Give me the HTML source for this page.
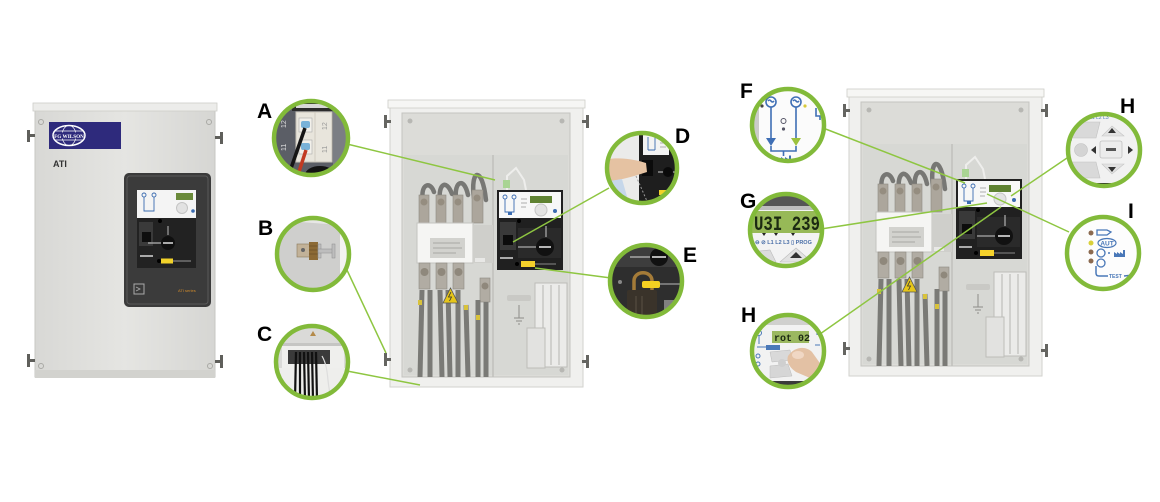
<!DOCTYPE html>
<html><head><meta charset="utf-8"><style>
html,body{margin:0;padding:0;background:#fff;width:1160px;height:502px;overflow:hidden}
svg{display:block}
</style></head><body>
<svg width="1160" height="502" viewBox="0 0 1160 502" xmlns="http://www.w3.org/2000/svg" xmlns:xlink="http://www.w3.org/1999/xlink" font-family="Liberation Sans, Arial, sans-serif">
<defs>
 <linearGradient id="cab" x1="0" x2="1" y1="0" y2="0">
  <stop offset="0" stop-color="#d8d8d5"/><stop offset="0.5" stop-color="#e5e5e2"/><stop offset="1" stop-color="#d6d6d3"/>
 </linearGradient>
 <clipPath id="cA"><circle cx="311" cy="138" r="37"/></clipPath>
 <clipPath id="cB"><circle cx="313" cy="254" r="36"/></clipPath>
 <clipPath id="cC"><circle cx="312" cy="362" r="36"/></clipPath>
 <clipPath id="cD"><circle cx="642" cy="168" r="35"/></clipPath>
 <clipPath id="cE"><circle cx="646" cy="281" r="36"/></clipPath>
 <clipPath id="cF"><circle cx="788" cy="125" r="36"/></clipPath>
 <clipPath id="cG"><circle cx="786" cy="230" r="36"/></clipPath>
 <clipPath id="cH2"><circle cx="788" cy="351" r="36"/></clipPath>
 <clipPath id="cH1"><circle cx="1104" cy="150" r="36"/></clipPath>
 <clipPath id="cI"><circle cx="1103" cy="253" r="36"/></clipPath>

 <g id="inner">
  <rect x="0" y="3" width="193" height="284" fill="#f0f0ee" stroke="#d2d2ce" stroke-width="1"/>
  <rect x="-2" y="0" width="197" height="8" fill="#f6f6f4" stroke="#cdcdc9" stroke-width="0.8"/>
  <rect x="12" y="13" width="168" height="264" fill="#dcdcd8" stroke="#c4c4c0" stroke-width="1"/>
  <rect x="14" y="55" width="164" height="220" fill="#d7d8d4"/>
  <circle cx="20" cy="21" r="2.5" fill="#b7b7b3"/><circle cx="172" cy="21" r="2.5" fill="#b7b7b3"/>
  <circle cx="20" cy="270" r="2.5" fill="#b7b7b3"/><circle cx="172" cy="270" r="2.5" fill="#b7b7b3"/>
  <!-- hinges -->
  <g fill="#656561">
   <rect x="-6" y="15" width="3" height="13"/><rect x="-6" y="20" width="7" height="3"/>
   <rect x="-6" y="253" width="3" height="13"/><rect x="-6" y="258" width="7" height="3"/>
   <rect x="196" y="15" width="3" height="13"/><rect x="192" y="20" width="7" height="3"/>
   <rect x="196" y="255" width="3" height="13"/><rect x="192" y="260" width="7" height="3"/>
  </g>
  <line x1="103" y1="55" x2="103" y2="277" stroke="#c0c0bc" stroke-width="1.5"/>
  <!-- top cables -->
  <g fill="none" stroke="#777774" stroke-width="4.5" stroke-linecap="round">
   <path d="M33,100 C30,85 40,80 44,92"/>
   <path d="M50,100 C48,85 56,78 62,94"/>
   <path d="M66,98 C64,82 74,76 78,95"/>
   <path d="M84,98 C80,70 92,64 96,100"/>
  </g>
  <!-- upper terminals -->
  <g fill="#aca69c" stroke="#8e8a82" stroke-width="0.6">
   <rect x="29" y="95" width="10" height="28"/><rect x="46" y="95" width="10" height="28"/>
   <rect x="63" y="95" width="10" height="28"/><rect x="82" y="90" width="11" height="33"/>
  </g>
  <g fill="#958d80"><circle cx="34" cy="102" r="3.5"/><circle cx="51" cy="102" r="3.5"/><circle cx="68" cy="102" r="3.5"/><circle cx="87" cy="98" r="3.5"/></g>
  <!-- contactor -->
  <rect x="27" y="123" width="56" height="40" fill="#f5f5f3" stroke="#c3c3bf"/>
  <rect x="40" y="138" width="35" height="20" fill="#d2d2ce"/>
  <g stroke="#9a9a96" stroke-width="0.8"><line x1="43" y1="143" x2="70" y2="143"/><line x1="43" y1="148" x2="72" y2="148"/><line x1="43" y1="153" x2="66" y2="153"/></g>
  <rect x="83" y="125" width="20" height="38" fill="#cfcfcb"/>
  <rect x="85" y="158" width="10" height="4" fill="#e8e8e6"/>
  <!-- lower terminals -->
  <g fill="#b1aca3" stroke="#8e8a82" stroke-width="0.6">
   <rect x="29" y="163" width="11" height="26"/><rect x="46" y="163" width="11" height="26"/><rect x="63" y="163" width="11" height="26"/><rect x="90" y="178" width="10" height="24"/>
  </g>
  <g fill="#8f887c"><circle cx="34.5" cy="172" r="4"/><circle cx="51.5" cy="172" r="4"/><circle cx="68.5" cy="172" r="4"/><circle cx="95" cy="186" r="3.5"/></g>
  <!-- down cables -->
  <g stroke="#7a7a76" stroke-width="5">
   <line x1="32" y1="190" x2="30" y2="277"/><line x1="40" y1="190" x2="40" y2="277"/>
   <line x1="50" y1="190" x2="52" y2="277"/><line x1="58" y1="190" x2="60" y2="277"/>
   <line x1="68" y1="190" x2="68" y2="277"/><line x1="76" y1="205" x2="78" y2="277"/>
   <line x1="88" y1="200" x2="88" y2="277"/><line x1="96" y1="202" x2="96" y2="277"/>
  </g>
  <polygon points="53,203 68,203 60.5,188" fill="#e6c61a" stroke="#555" stroke-width="0.8"/>
  <path d="M61,192 L58.5,197 L61.5,197 L59.5,201" fill="none" stroke="#333" stroke-width="0.8"/>
  <g fill="#d8c23a"><rect x="28" y="200" width="4" height="5"/><rect x="74" y="205" width="4" height="5"/><rect x="86" y="215" width="4" height="5"/></g>
  <!-- ground -->
  <rect x="117" y="195" width="24" height="6" rx="2" fill="#c9c9c5"/>
  <g stroke="#8d8d89" stroke-width="1"><line x1="129" y1="205" x2="129" y2="218"/><line x1="124" y1="218" x2="134" y2="218"/><line x1="126" y1="221" x2="132" y2="221"/><line x1="128" y1="224" x2="130" y2="224"/></g>
  <!-- breakers -->
  <rect x="145" y="183" width="32" height="84" fill="#ebebe9" stroke="#bdbdb9"/>
  <g stroke="#b5b5b1" stroke-width="1"><line x1="153" y1="185" x2="153" y2="265"/><line x1="161" y1="185" x2="161" y2="265"/><line x1="169" y1="185" x2="169" y2="265"/></g>
  <rect x="137" y="228" width="18" height="40" fill="#e2e2e0" stroke="#bdbdb9"/>
  <!-- top wire -->
  <path d="M117,90 L117,76 L126,68 L134,80 L136,90" fill="none" stroke="#eeeeec" stroke-width="2"/>
  <rect x="113" y="80" width="7" height="8" fill="#a9d493"/>
  <!-- controller -->
  <rect x="107" y="90" width="66" height="80" fill="#202020"/>
  <rect x="109" y="92" width="62" height="26" fill="#f7f7f7"/>
  <g fill="none" stroke="#3a6bb0" stroke-width="0.9">
   <circle cx="115" cy="97" r="2"/><circle cx="124" cy="97" r="2"/>
   <line x1="115" y1="99" x2="115" y2="109"/><line x1="124" y1="99" x2="124" y2="109"/>
   <path d="M115,109 V112 H124 V109"/>
  </g>
  <rect x="118" y="112" width="4" height="3" fill="#3a6bb0"/>
  <rect x="140" y="96" width="22" height="7" fill="#5f8232"/>
  <circle cx="151" cy="110" r="6" fill="#e3e3e3" stroke="#c5c5c5"/>
  <circle cx="165" cy="111" r="2" fill="#3a6bb0"/>
  <g stroke="#999" stroke-width="0.8"><line x1="131" y1="99" x2="137" y2="99"/><line x1="131" y1="103" x2="137" y2="103"/><line x1="131" y1="107" x2="136" y2="107"/></g>
  <rect x="110" y="122" width="16" height="28" fill="#393939"/>
  <rect x="113" y="135" width="10" height="10" fill="#0c0c0c"/>
  <circle cx="129" cy="121" r="2" fill="#000"/>
  <rect x="128" y="128" width="43" height="30" fill="#2a2a2a"/>
  <line x1="128" y1="147" x2="146" y2="147" stroke="#aaa" stroke-width="1.2"/>
  <circle cx="155" cy="147" r="9" fill="#111"/>
  <line x1="149" y1="147" x2="161" y2="147" stroke="#eee" stroke-width="1.5"/>
  <line x1="156" y1="126" x2="156" y2="137" stroke="#ccc" stroke-width="1"/>
  <circle cx="127" cy="164" r="2" fill="#000"/>
  <rect x="131" y="161" width="14" height="6" fill="#f4d12b"/>
  <line x1="145" y1="164" x2="166" y2="164" stroke="#888" stroke-width="1"/>
  <rect x="110" y="157" width="13" height="2" fill="#aaa"/>
 </g>
</defs>

<!-- ===== LEFT CABINET ===== -->
<rect x="35" y="106" width="180" height="271" fill="url(#cab)" stroke="#c7c7c3" stroke-width="1"/>
<rect x="33" y="103" width="184" height="8" fill="#ececea" stroke="#cdcdc9" stroke-width="0.8"/>
<rect x="35" y="370" width="180" height="8" fill="#d2d2ce"/>
<g fill="#5f5f5b">
 <rect x="27" y="130" width="3" height="12"/><rect x="27" y="134" width="8" height="3"/>
 <rect x="27" y="354" width="3" height="13"/><rect x="27" y="359" width="8" height="3"/>
 <rect x="220" y="132" width="3" height="12"/><rect x="215" y="136" width="8" height="3"/>
 <rect x="220" y="355" width="3" height="13"/><rect x="215" y="360" width="8" height="3"/>
</g>
<g fill="none" stroke="#a9a9a5" stroke-width="1"><circle cx="41" cy="122" r="2.5"/><circle cx="209" cy="122" r="2.5"/><circle cx="41" cy="366" r="2.5"/><circle cx="210" cy="366" r="2.5"/></g>
<rect x="49" y="122" width="72" height="27" fill="#2e2a7c"/>
<ellipse cx="69" cy="135.5" rx="16" ry="10" fill="#2e2a7c" stroke="#fff" stroke-width="1.5"/>
<g fill="none" stroke="#fff" stroke-width="0.7"><ellipse cx="69" cy="135.5" rx="7" ry="10"/><line x1="54" y1="131" x2="84" y2="131"/><line x1="54" y1="140" x2="84" y2="140"/></g>
<rect x="55" y="132.5" width="28" height="6" fill="#2e2a7c"/>
<text x="69" y="137.8" font-size="5.2" font-weight="bold" fill="#fff" text-anchor="middle" font-family="Liberation Serif, serif">FG WILSON</text>
<text x="53" y="167" font-size="9" font-weight="bold" fill="#333">ATI</text>
<rect x="124" y="173" width="87" height="134" rx="5" fill="#3b3b3b"/>
<rect x="127" y="176" width="81" height="128" rx="3" fill="none" stroke="#5a5a5a" stroke-width="1"/>
<rect x="137" y="190" width="59" height="28" fill="#f4f4f4"/>
<g fill="none" stroke="#3a6bb0" stroke-width="0.9">
 <circle cx="144" cy="195" r="2"/><circle cx="154" cy="195" r="2"/>
 <line x1="144" y1="197" x2="144" y2="208"/><line x1="154" y1="197" x2="154" y2="208"/>
 <path d="M144,208 V211 H154 V208"/>
</g>
<rect x="176" y="193" width="17" height="7" fill="#6a8a3a"/>
<circle cx="182" cy="208" r="5.5" fill="#e2e2e2" stroke="#c4c4c4"/>
<circle cx="193" cy="211" r="1.8" fill="#3a6bb0"/>
<rect x="137" y="218" width="59" height="50" fill="#222"/>
<rect x="139" y="222" width="14" height="24" fill="#3a3a3a"/>
<rect x="142" y="232" width="9" height="10" fill="#0e0e0e"/>
<circle cx="160" cy="221" r="2" fill="#000"/>
<line x1="148" y1="243" x2="162" y2="243" stroke="#bbb" stroke-width="1.2"/>
<circle cx="168" cy="243" r="7" fill="#0f0f0f"/>
<line x1="163" y1="243" x2="173" y2="243" stroke="#eee" stroke-width="1.4"/>
<line x1="168" y1="226" x2="168" y2="235" stroke="#bbb" stroke-width="1"/>
<circle cx="159" cy="261" r="2" fill="#000"/>
<rect x="161" y="258.5" width="12" height="5" fill="#f2d22a"/>
<line x1="173" y1="261" x2="191" y2="261" stroke="#999" stroke-width="1"/>
<rect x="140" y="255" width="13" height="2" fill="#aaa"/>
<rect x="134" y="284" width="10" height="10" fill="none" stroke="#aaa" stroke-width="1"/>
<path d="M136,287 L140,289 L136,291" fill="none" stroke="#aaa" stroke-width="0.8"/>
<text x="178" y="292" font-size="4" fill="#d08a2a">ATI series</text>

<!-- ===== MIDDLE & RIGHT CABINETS ===== -->
<use xlink:href="#inner" href="#inner" transform="translate(390,100)"/>
<use xlink:href="#inner" href="#inner" transform="translate(849,89)"/>

<!-- ===== CONNECTOR LINES ===== -->
<g stroke="#8ec641" stroke-width="1.5" fill="none">
 <line x1="347" y1="144" x2="495" y2="180"/>
 <line x1="346" y1="268" x2="386" y2="353"/>
 <line x1="347" y1="371" x2="420" y2="385"/>
 <line x1="609" y1="188" x2="513" y2="242"/>
 <line x1="611" y1="278" x2="535" y2="268"/>
 <line x1="823" y1="128" x2="965" y2="183"/>
 <line x1="821" y1="229" x2="987" y2="203"/>
 <line x1="820" y1="334" x2="1001" y2="207"/>
 <line x1="1067" y1="158" x2="1011" y2="196"/>
 <line x1="1069" y1="232" x2="987" y2="194"/>
</g>

<!-- ===== CIRCLE A ===== -->
<g clip-path="url(#cA)">
 <rect x="270" y="98" width="84" height="82" fill="#5b5e66"/>
 <rect x="292" y="100" width="42" height="11" fill="#2c2c2c"/>
 <rect x="296" y="104" width="34" height="4" fill="#d8d8d8"/>
 <text x="0" y="0" font-size="7" fill="#ddd" transform="translate(286,128) rotate(-90)">12</text>
 <text x="0" y="0" font-size="7" fill="#ddd" transform="translate(286,151) rotate(-90)">11</text>
 <rect x="296" y="112" width="36" height="50" fill="#e8e5dc" stroke="#c8c4b8"/>
 <line x1="315" y1="112" x2="315" y2="162" stroke="#cfcbc0"/>
 <rect x="299" y="118" width="13" height="14" fill="#f2f0ea" stroke="#aaa" stroke-width="0.6"/>
 <rect x="301" y="121" width="9" height="7" rx="2" fill="#79b2d8"/>
 <rect x="299" y="140" width="13" height="14" fill="#f2f0ea" stroke="#aaa" stroke-width="0.6"/>
 <rect x="301" y="143" width="9" height="7" rx="2" fill="#79b2d8"/>
 <text x="0" y="0" font-size="7" fill="#999" transform="translate(327,130) rotate(-90)">12</text>
 <text x="0" y="0" font-size="7" fill="#999" transform="translate(327,153) rotate(-90)">11</text>
 <path d="M305,128 L289,174" stroke="#151515" stroke-width="3.5"/>
 <path d="M306,150 L297,178" stroke="#c23a22" stroke-width="3.5"/>
 <ellipse cx="320" cy="175" rx="15" ry="9" fill="#141414"/>
 <rect x="333" y="98" width="20" height="82" fill="#7b7e84"/>
</g>
<circle cx="311" cy="138" r="37" fill="none" stroke="#82ba3a" stroke-width="4.5"/>

<!-- ===== CIRCLE B ===== -->
<g clip-path="url(#cB)">
 <rect x="274" y="216" width="80" height="78" fill="#cfcfcd"/>
 <polygon points="274,216 354,216 354,226 300,222 274,236" fill="#e7e7e5"/>
 <rect x="340" y="216" width="14" height="78" fill="#f3f3f1"/>
 <rect x="297" y="244" width="13" height="13" fill="#c2b298" stroke="#8a7a5a" stroke-width="0.6"/>
 <circle cx="303" cy="250" r="2" fill="#666"/>
 <rect x="309" y="242" width="9" height="18" fill="#8c6a35"/>
 <g stroke="#5e4420" stroke-width="0.6"><line x1="309" y1="246" x2="318" y2="246"/><line x1="309" y1="250" x2="318" y2="250"/><line x1="309" y1="254" x2="318" y2="254"/></g>
 <g fill="#bdbdbd" stroke="#8e8e8e" stroke-width="0.5"><rect x="318" y="244" width="3" height="14"/><rect x="318" y="249" width="16" height="4"/><rect x="332" y="244" width="3" height="14"/></g>
</g>
<circle cx="313" cy="254" r="36" fill="none" stroke="#82ba3a" stroke-width="4.5"/>

<!-- ===== CIRCLE C ===== -->
<g clip-path="url(#cC)">
 <rect x="274" y="324" width="78" height="78" fill="#dadad8"/>
 <polygon points="310,336 316,336 313,331" fill="#b48a4a"/>
 <rect x="276" y="343" width="74" height="3" fill="#c5c5c3"/>
 <rect x="282" y="346" width="62" height="22" fill="#efefed"/>
 <rect x="288" y="350" width="42" height="14" fill="#3a3a3a"/>
 <rect x="274" y="368" width="78" height="34" fill="#eeeeec"/>
 <g stroke="#111" stroke-width="2.2">
  <line x1="296" y1="352" x2="295" y2="400"/><line x1="300" y1="352" x2="300" y2="400"/>
  <line x1="304" y1="352" x2="305" y2="400"/><line x1="308" y1="352" x2="309" y2="400"/>
  <line x1="312" y1="352" x2="313" y2="400"/><line x1="316" y1="352" x2="317" y2="400"/>
 </g>
 <path d="M322,356 C330,370 326,385 332,400" stroke="#ddd" stroke-width="1.2" fill="none"/>
</g>
<circle cx="312" cy="362" r="36" fill="none" stroke="#82ba3a" stroke-width="4.5"/>

<!-- ===== CIRCLE D ===== -->
<g clip-path="url(#cD)">
 <rect x="604" y="130" width="78" height="78" fill="#ebebea"/>
 <rect x="639" y="130" width="43" height="78" fill="#1e1e1e"/>
 <rect x="643" y="134" width="26" height="21" fill="#f3f3f3"/>
 <g stroke="#3a6bb0" stroke-width="0.9" fill="none"><line x1="648" y1="137" x2="648" y2="150"/><line x1="655" y1="137" x2="655" y2="150"/><path d="M648,150 H655"/></g>
 <g stroke="#999" stroke-width="0.7"><line x1="660" y1="139" x2="667" y2="139"/><line x1="660" y1="143" x2="667" y2="143"/><line x1="660" y1="147" x2="666" y2="147"/></g>
 <rect x="642" y="160" width="11" height="16" fill="#0b0b0b"/>
 <line x1="658" y1="172" x2="676" y2="172" stroke="#ccc" stroke-width="1"/>
 <circle cx="668" cy="172" r="5" fill="#0a0a0a"/>
 <rect x="659" y="190" width="10" height="5" fill="#f2d22a"/>
 <path d="M604,160 C615,157 630,158 646,163 L647,172 C635,176 622,180 604,182 Z" fill="#e5c2a2"/>
 <path d="M604,182 L622,179 L628,200 L604,208 Z" fill="#c6d7ea"/>
 <path d="M636,176 L650,208" stroke="#9a9a9a" stroke-width="1" stroke-dasharray="2,2"/>
</g>
<circle cx="642" cy="168" r="35" fill="none" stroke="#82ba3a" stroke-width="4.5"/>

<!-- ===== CIRCLE E ===== -->
<g clip-path="url(#cE)">
 <rect x="608" y="243" width="78" height="78" fill="#2e2e2e"/>
 <rect x="608" y="243" width="78" height="24" fill="#3d3d3d"/>
 <line x1="630" y1="257" x2="650" y2="257" stroke="#bbb" stroke-width="1.2"/>
 <circle cx="659" cy="257" r="9" fill="#111"/>
 <line x1="652" y1="257" x2="666" y2="257" stroke="#eee" stroke-width="1.5"/>
 <circle cx="620" cy="282" r="2" fill="#888"/>
 <path d="M634,294 L634,281 C634,270 652,270 652,281 L652,294" fill="none" stroke="#a47b38" stroke-width="3.5"/>
 <rect x="642" y="281" width="18" height="7" rx="2" fill="#f3cf22"/>
 <line x1="660" y1="284" x2="686" y2="284" stroke="#bbb" stroke-width="1"/>
 <rect x="627" y="290" width="30" height="30" rx="2" fill="#3a332a"/>
 <g stroke="#5a5044" stroke-width="1"><line x1="636" y1="296" x2="636" y2="318"/><line x1="642" y1="296" x2="642" y2="318"/></g>
 <rect x="664" y="300" width="24" height="22" fill="#808080"/>
</g>
<circle cx="646" cy="281" r="36" fill="none" stroke="#82ba3a" stroke-width="4.5"/>

<!-- ===== CIRCLE F ===== -->
<g clip-path="url(#cF)">
 <rect x="750" y="87" width="78" height="78" fill="#fbfbfb"/>
 <rect x="750" y="87" width="9" height="78" fill="#cbcbc9"/>
 <g fill="none" stroke="#3f6fb5" stroke-width="1.6">
  <circle cx="771" cy="102" r="5"/><circle cx="796" cy="102" r="5"/>
  <line x1="771" y1="107" x2="771" y2="138"/><line x1="796" y1="107" x2="796" y2="138"/>
  <path d="M771,146 V151 H796 V146"/>
  <line x1="783.5" y1="151" x2="783.5" y2="156"/>
  <path d="M768,101 q1.5,-2 3,0 t3,0"/><path d="M793,101 q1.5,-2 3,0 t3,0"/>
  <path d="M816,108 v8 h4 v4"/>
 </g>
 <polygon points="766,138 776,138 771,146" fill="#3f6fb5"/>
 <polygon points="791,138 801,138 796,146" fill="#9cc23e"/>
 <path d="M777,163 v-6 l4,2.5 v-2.5 l4,2.5 v-2.5 l4,2.5 v-4 h2 v7.5 z" fill="#3f6fb5"/>
 <circle cx="783.5" cy="121" r="2.5" fill="none" stroke="#556" stroke-width="1"/>
 <circle cx="783.5" cy="129" r="1.6" fill="#556"/>
 <circle cx="762" cy="106" r="1.6" fill="#444"/>
 <circle cx="805" cy="106" r="1.6" fill="#d7c93a"/>
</g>
<circle cx="788" cy="125" r="36" fill="none" stroke="#82ba3a" stroke-width="4.5"/>

<!-- ===== CIRCLE G ===== -->
<g clip-path="url(#cG)">
 <rect x="748" y="192" width="78" height="78" fill="#f3f3f3"/>
 <rect x="748" y="192" width="78" height="14" fill="#555"/>
 <rect x="748" y="206" width="78" height="4" fill="#bdbdbd"/>
 <rect x="752" y="211" width="70" height="22" fill="#97b957"/>
 <text x="754" y="230" font-size="20" font-weight="bold" fill="#1c2a12" font-family="Liberation Mono, monospace" textLength="66" lengthAdjust="spacingAndGlyphs">U3I 239</text>
 <g fill="#222"><polygon points="762,233 766,233 764,236"/><polygon points="774,233 778,233 776,236"/><polygon points="791,233 795,233 793,236"/></g>
 <text x="755" y="244" font-size="5.5" fill="#4a6fa8" font-weight="bold">⊖ ⊘ L1 L2 L3 ▯ PROG</text>
 <path d="M750,252 L770,250 L776,262 L750,268 Z" fill="#dcdcdc" stroke="#bbb" stroke-width="0.6"/>
 <path d="M780,262 L796,248 L812,262 Z" fill="#e2e2e2" stroke="#bbb" stroke-width="0.6"/>
 <polygon points="790,258 796,252 802,258" fill="#333"/>
</g>
<circle cx="786" cy="230" r="36" fill="none" stroke="#82ba3a" stroke-width="4.5"/>

<!-- ===== CIRCLE H (bottom) ===== -->
<g clip-path="url(#cH2)">
 <rect x="750" y="313" width="78" height="78" fill="#f2f2f2"/>
 <rect x="750" y="313" width="78" height="12" fill="#d0d0ce"/>
 <rect x="772" y="331" width="37" height="12" fill="#9bb860"/>
 <text x="774" y="341" font-size="10" font-weight="bold" fill="#1c2a12" font-family="Liberation Mono, monospace">rot 02</text>
 <g fill="none" stroke="#4a78b8" stroke-width="1">
  <circle cx="759" cy="333" r="2.5"/><line x1="759" y1="336" x2="759" y2="344"/><path d="M757,347 h10"/>
  <circle cx="758" cy="356" r="2"/><circle cx="758" cy="364" r="2"/>
  <path d="M817,327 v8"/><path d="M815,345 h5"/>
 </g>
 <rect x="766" y="345" width="14" height="5" fill="#4a78b8"/>
 <path d="M770,352 L790,350 L792,360 L772,362 Z" fill="#d9d9d9" stroke="#bbb" stroke-width="0.5"/>
 <path d="M770,366 L788,364 L792,376 L770,378 Z" fill="#d6d6d6" stroke="#bbb" stroke-width="0.5"/>
 <circle cx="782" cy="363" r="4" fill="#cfcfcf"/>
 <path d="M788,356 C795,346 806,346 812,352 L822,366 C826,374 818,380 810,378 L796,372 C790,368 786,362 788,356 Z" fill="#e3c1a4"/>
 <ellipse cx="798" cy="355" rx="6" ry="4" fill="#f0d7c4"/>
 <rect x="750" y="381" width="78" height="12" fill="#3a3a3a"/>
 <text x="785" y="389" font-size="5" fill="#ccc">AUT</text>
</g>
<circle cx="788" cy="351" r="36" fill="none" stroke="#82ba3a" stroke-width="4.5"/>

<!-- ===== CIRCLE H (top) ===== -->
<g clip-path="url(#cH1)">
 <rect x="1066" y="112" width="78" height="78" fill="#f1f1f1"/>
 <text x="1078" y="119" font-size="5" fill="#4a78b8">⊖ ⊘ L1 L2 L3</text>
 <path d="M1080,122 L1100,122 L1096,138 L1072,138 Z" fill="#d9d9d9" stroke="#c2c2c2" stroke-width="0.6"/>
 <path d="M1072,162 L1096,162 L1100,178 L1080,178 Z" fill="#d9d9d9" stroke="#c2c2c2" stroke-width="0.6"/>
 <circle cx="1081" cy="150" r="6.5" fill="#d4d4d4" stroke="#c2c2c2" stroke-width="0.6"/>
 <path d="M1102,136 L1112,126 L1124,136 Z" fill="#e2e2e2" stroke="#c6c6c6" stroke-width="0.6"/>
 <path d="M1102,164 L1124,164 L1112,174 Z" fill="#e2e2e2" stroke="#c6c6c6" stroke-width="0.6"/>
 <rect x="1100" y="141" width="22" height="17" rx="2" fill="#ececec" stroke="#c0c0c0" stroke-width="0.8"/>
 <rect x="1106" y="148" width="10" height="3" fill="#555"/>
 <g fill="#333">
  <polygon points="1108,133 1116,133 1112,128"/>
  <polygon points="1108,167 1116,167 1112,172"/>
  <polygon points="1096,146 1096,154 1091,150"/>
  <polygon points="1128,146 1128,154 1133,150"/>
 </g>
 <path d="M1066,140 L1072,140" stroke="#4a78b8" stroke-width="1"/>
 <rect x="1066" y="183" width="78" height="8" fill="#222"/>
</g>
<circle cx="1104" cy="150" r="36" fill="none" stroke="#82ba3a" stroke-width="4.5"/>

<!-- ===== CIRCLE I ===== -->
<g clip-path="url(#cI)">
 <rect x="1065" y="215" width="78" height="78" fill="#fdfdfd"/>
 <circle cx="1091" cy="233" r="2.5" fill="#8b6a50"/>
 <path d="M1097,230 h10 l4,2 l-4,3 h-10 z" fill="none" stroke="#4a78b8" stroke-width="1.3"/>
 <circle cx="1091" cy="243" r="2.5" fill="#d9d03a"/>
 <ellipse cx="1107" cy="243" rx="9" ry="4.5" fill="none" stroke="#4a78b8" stroke-width="1.2"/>
 <text x="1107" y="245.5" font-size="6.5" font-weight="bold" fill="#4a78b8" text-anchor="middle">AUT</text>
 <circle cx="1091" cy="252" r="2.5" fill="#8b6a50"/>
 <circle cx="1101" cy="253" r="4" fill="none" stroke="#4a78b8" stroke-width="1.3"/>
 <circle cx="1109" cy="253" r="1" fill="#4a78b8"/>
 <path d="M1114,257 v-5 l3,2 v-2 l3,2 v-2 l3,2 v-4 h2 v7 z" fill="#4a78b8"/>
 <circle cx="1091" cy="261" r="2.5" fill="#8b6a50"/>
 <circle cx="1101" cy="263" r="4" fill="none" stroke="#4a78b8" stroke-width="1.3"/>
 <path d="M1096,266 V273 Q1096,276 1099,276 H1108" fill="none" stroke="#4a78b8" stroke-width="1.5"/>
 <text x="1109" y="278" font-size="5" font-weight="bold" fill="#4a78b8">TEST</text>
 <line x1="1124" y1="276" x2="1142" y2="274" stroke="#4a78b8" stroke-width="1.5"/>
</g>
<circle cx="1103" cy="253" r="36" fill="none" stroke="#82ba3a" stroke-width="4.5"/>

<!-- ===== LABELS ===== -->
<g font-family="Liberation Sans, Arial, sans-serif" font-weight="bold" font-size="21" fill="#000">
 <text x="257" y="118">A</text>
 <text x="258" y="235">B</text>
 <text x="257" y="341">C</text>
 <text x="675" y="143">D</text>
 <text x="683" y="262">E</text>
 <text x="740" y="98">F</text>
 <text x="740" y="208">G</text>
 <text x="741" y="322">H</text>
 <text x="1120" y="113">H</text>
 <text x="1128" y="218">I</text>
</g>
</svg>
</body></html>
